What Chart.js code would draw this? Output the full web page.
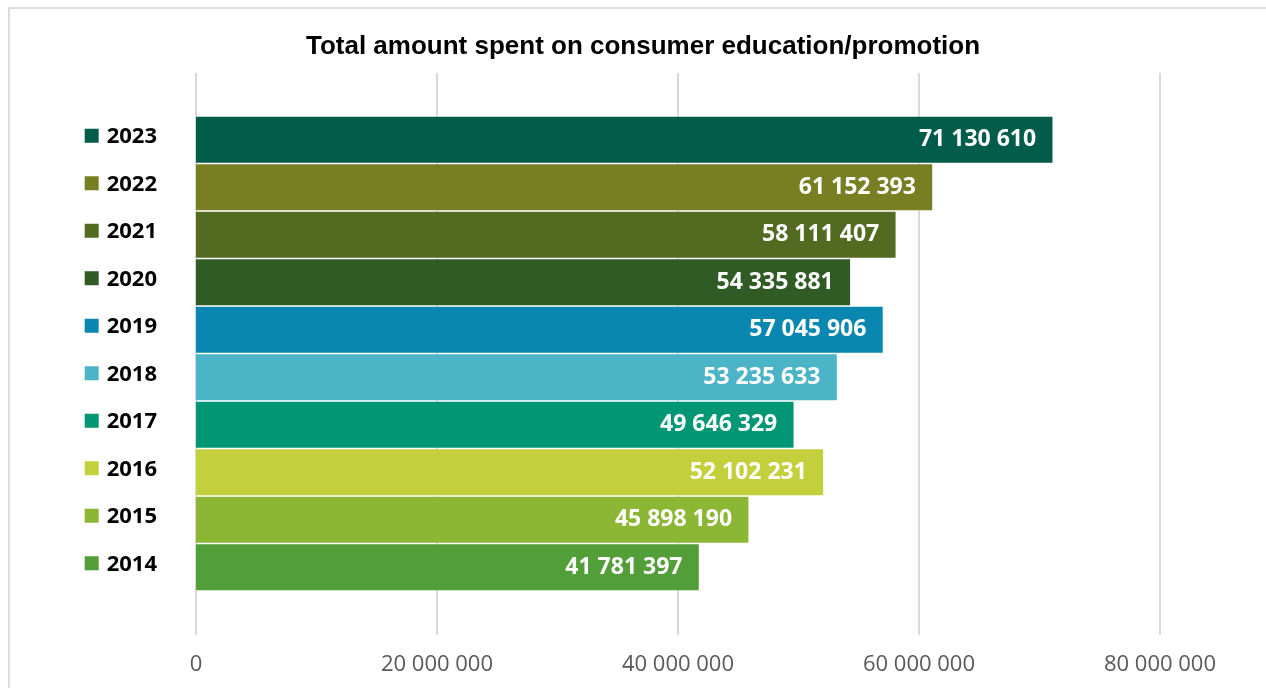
<!DOCTYPE html>
<html>
<head>
<meta charset="utf-8">
<script src="https://cdn.jsdelivr.net/npm/chart.js@4.4.1/dist/chart.umd.min.js"></script>
<style>
  html, body { margin: 0; padding: 0; background: #fff; }
  .wrap { position: relative; width: 1266px; height: 688px; overflow: hidden; }
  .frame {
    position: absolute; left: 8px; top: 7px; right: -10px; bottom: -10px;
    border-left: 2px solid #dcdcdc; border-top: 2px solid #dcdcdc;
  }
  .title {
    position: absolute; left: 143px; width: 1000px; top: 30px;
    text-align: center; font: bold 26px 'Liberation Sans', Arial, sans-serif; color: #000;
  }
  canvas { position: absolute; left: 0; top: 0; }
</style>
</head>
<body>
<div class="wrap">
  <div class="frame"></div>
  <canvas id="chart" width="1266" height="688"></canvas>
  <div class="title">Total amount spent on consumer education/promotion</div>
</div>
<script>
// spending per year, oldest first
const years = ["2014", "2015", "2016", "2017", "2018", "2019", "2020", "2021", "2022", "2023"];
const amounts = [41781397, 45898190, 52102231, 49646329, 53235633, 57045906, 54335881, 58111407, 61152393, 71130610];
const barColors = ["#529e38", "#8cb735", "#c3cf3b", "#029774", "#4bb4c6", "#0a87b1", "#305b25", "#536b20", "#787f22", "#025c4a"];
const xTicks = [0, 20000000, 40000000, 60000000, 80000000];

const fmt = v => String(v).replace(/\B(?=(\d{3})+(?!\d))/g, " ");

// vertical gridlines run past the bars, above and below
const gridPlugin = {
  id: "extGrid",
  beforeDatasetsDraw(chart) {
    const { ctx, chartArea, scales } = chart;
    ctx.save();
    ctx.strokeStyle = "#d9d9d9";
    ctx.lineWidth = 2;
    xTicks.forEach(t => {
      const x = Math.round(scales.x.getPixelForValue(t));
      ctx.beginPath();
      ctx.moveTo(x, chartArea.top - 43);
      ctx.lineTo(x, chartArea.bottom + 44);
      ctx.stroke();
    });
    ctx.restore();
  }
};

// value labels inside bar ends + colour squares beside the year labels
const labelPlugin = {
  id: "barLabels",
  afterDatasetsDraw(chart) {
    const { ctx, scales } = chart;
    const meta = chart.getDatasetMeta(0);
    ctx.save();
    ctx.font = "bold 23px 'Open Sans'";
    ctx.fillStyle = "#fff";
    ctx.textAlign = "right";
    ctx.textBaseline = "middle";
    meta.data.forEach((bar, i) => {
      ctx.fillText(fmt(amounts[i]), bar.x - 17, bar.y);
    });

    ctx.font = "bold 22px 'Open Sans'";
    const yScale = scales.y;
    const right = yScale.right - 39;
    years.forEach((yr, i) => {
      const w = ctx.measureText(yr).width;
      const cy = yScale.getPixelForValue(i) - 4;
      ctx.fillStyle = barColors[i];
      ctx.fillRect(right - w - 22, cy - 7, 14, 14);
    });
    ctx.restore();
  }
};

new Chart(document.getElementById("chart"), {
  type: "bar",
  data: {
    labels: years,
    datasets: [{
      data: amounts,
      backgroundColor: barColors,
      borderColor: "rgba(255,255,255,0.2)",
      borderWidth: 1,
      barPercentage: 1,
      categoryPercentage: 1
    }]
  },
  options: {
    indexAxis: "y",
    responsive: false,
    animation: false,
    layout: { padding: { left: 0, right: 106, top: 116, bottom: 0 } },
    plugins: {
      legend: { display: false },
      tooltip: { enabled: false },
      title: { display: false }
    },
    scales: {
      x: {
        min: 0,
        max: 80000000,
        afterBuildTicks: s => { s.ticks = xTicks.map(v => ({ value: v })); },
        afterFit: s => { s.height = 97; },
        border: { display: false },
        // hidden tick marks only push the labels down
        grid: { display: false, drawTicks: true, tickLength: 58 },
        ticks: {
          padding: 3,
          maxRotation: 0,
          color: "#595959",
          font: { family: "'Open Sans'", size: 22 },
          callback: v => fmt(v)
        }
      },
      y: {
        reverse: true,
        afterFit: s => { s.width = 196; },
        border: { display: false },
        grid: { display: false, drawTicks: false },
        ticks: {
          padding: 39,
          labelOffset: -3,
          color: "#000",
          font: { family: "'Open Sans'", size: 22, weight: "bold" }
        }
      }
    }
  },
  plugins: [gridPlugin, labelPlugin]
});
</script>
</body>
</html>
